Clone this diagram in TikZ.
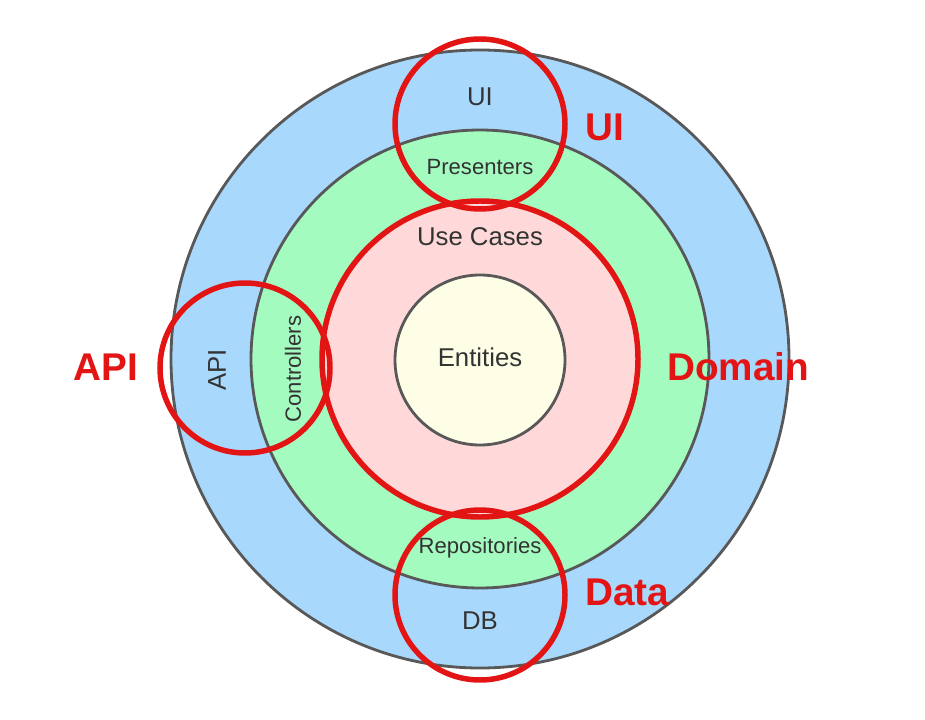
\documentclass[tikz,border=0pt]{standalone}
\usepackage{fontspec}
\setsansfont{Liberation Sans}
\usepackage{xcolor}
\usetikzlibrary{positioning}

\definecolor{ringblue}{HTML}{A9D8FD}
\definecolor{ringgreen}{HTML}{A3FBBF}
\definecolor{ringpink}{HTML}{FFD9D9}
\definecolor{ringyellow}{HTML}{FEFEE6}
\definecolor{ringgray}{HTML}{585858}
\definecolor{markred}{HTML}{E31414}
\definecolor{labelgray}{HTML}{333333}

\begin{document}
\begin{tikzpicture}[x=0.025cm,y=-0.025cm,
  ring/.style={draw=ringgray,line width=2pt},
  redring/.style={draw=markred,line width=3.9pt},
  layer/.style={text=labelgray,font=\sffamily\fontsize{18.3}{21}\selectfont},
  small/.style={text=labelgray,font=\sffamily\fontsize{15.7}{18}\selectfont},
  tag/.style={text=markred,font=\sffamily\bfseries\fontsize{27.5}{30}\selectfont}]
\useasboundingbox (0,0) rectangle (925,720);

% layers
\filldraw[ring,fill=ringblue] (480,359) circle[radius=309];
\filldraw[ring,fill=ringgreen] (480,359) circle[radius=229];
\filldraw[redring,fill=ringpink] (480,359) circle[radius=158];
\filldraw[ring,fill=ringyellow] (480,360) circle[radius=85];

\node[layer] (ui) at (480,97) {UI};
\node[small] (pres) at (480,167) {Presenters};
\node[layer] (uc) at (480,237) {Use Cases};
\node[layer] (ent) at (480,357) {Entities};
\node[small,rotate=90] (ctrl) at (293,369) {Controllers};
\node[layer,rotate=90] (api) at (217,370) {API};
\node[small] (repo) at (480,548) {Repositories};
\node[layer] (db) at (480,621) {DB};

% highlights
\draw[redring] (480,124) circle[radius=85];
\draw[redring] (245,368) circle[radius=85];
\draw[redring] (480,595) circle[radius=85];

\node[tag] (tui) at (605,127) {UI};
\node[tag] (tdom) at (738,367) {Domain};
\node[tag] (tapi) at (106,367) {API};
\node[tag] (tdata) at (627,592) {Data};
\end{tikzpicture}
\end{document}
